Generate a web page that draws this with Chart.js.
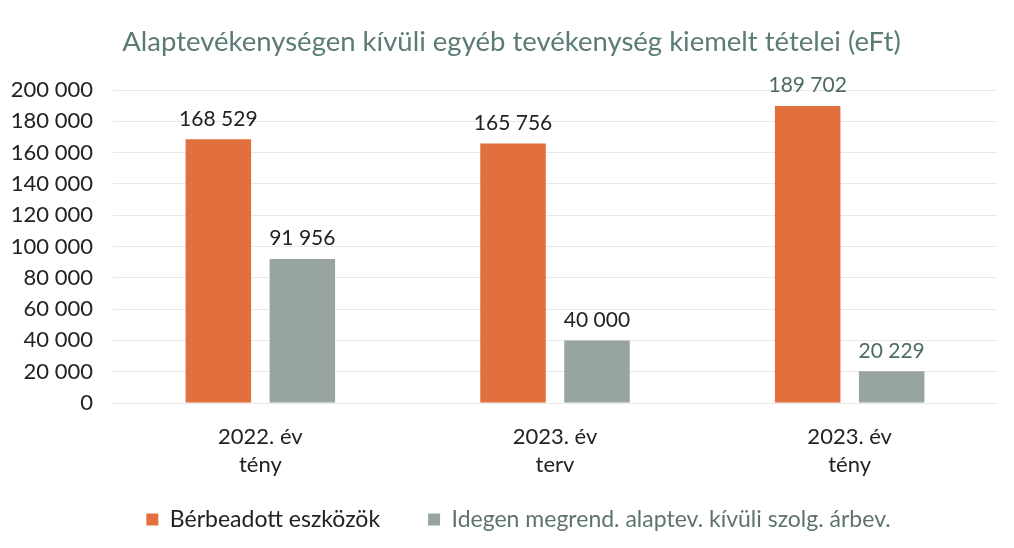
<!DOCTYPE html>
<html>
<head>
<meta charset="utf-8">
<script src="https://cdn.jsdelivr.net/npm/chart.js@4.4.1/dist/chart.umd.min.js"></script>
<style>
html,body{margin:0;padding:0;background:#fff;}
#wrap{width:1014px;height:548px;}
</style>
</head>
<body>
<div id="wrap"><canvas id="c" width="1014" height="548"></canvas></div>
<script>
const categories = [["2022. év","tény"],["2023. év","terv"],["2023. év","tény"]];
const seriesNames = ["Bérbeadott eszközök","Idegen megrend. alaptev. kívüli szolg. árbev."];
const rentedAssets = [168529, 165756, 189702];
const externalServices = [91956, 40000, 20229];
const yTicks = [0,20000,40000,60000,80000,100000,120000,140000,160000,180000,200000];

const FONT = "Lato";
const labelColors = [["#222","#222","#4f6b66"],["#222","#222","#4f6b66"]];
const legendColors = ["#222","#5e7370"];

function fmt(v){return String(v).replace(/\B(?=(\d{3})+(?!\d))/g,' ');}

const dataLabels = {
  id:'dataLabels',
  afterDatasetsDraw(chart){
    const ctx = chart.ctx;
    ctx.save();
    ctx.font = "21px " + FONT;
    ctx.textAlign = 'center';
    ctx.textBaseline = 'bottom';
    chart.data.datasets.forEach((ds,di)=>{
      const meta = chart.getDatasetMeta(di);
      meta.data.forEach((el,i)=>{
        ctx.fillStyle = labelColors[di][i];
        ctx.fillText(fmt(ds.data[i]), el.x, el.y - 10);
      });
    });
    ctx.restore();
  }
};

// Layout tweaks: compact legend height (wide item spacing), and nudge the
// legend and title boxes horizontally to match the reference centring.
const layoutTweak = {
  id:'layoutTweak',
  beforeLayout(chart){
    const lg = chart.legend;
    if (lg && !lg._patched){
      const orig = lg.fit;
      lg.fit = function(){ orig.call(this); this.height = 69; };
      lg._patched = true;
    }
  },
  afterLayout(chart){
    const lg = chart.legend;
    if (lg){ lg.top -= 19; lg.left += 20; lg.right += 20; }
    const tb = chart.titleBlock;
    if (tb){ tb.left += 13; tb.right += 13; }
  }
};

new Chart(document.getElementById('c'),{
  type:'bar',
  data:{
    labels:categories,
    datasets:[
      {label:seriesNames[0],data:rentedAssets,backgroundColor:'#e1703e',categoryPercentage:0.57,barPercentage:0.78},
      {label:seriesNames[1],data:externalServices,backgroundColor:'#98a4a2',categoryPercentage:0.57,barPercentage:0.78}
    ]
  },
  options:{
    responsive:false,
    animation:false,
    layout:{padding:{left:0,right:17,top:0,bottom:0}},
    plugins:{
      title:{display:true,text:'Alaptevékenységen kívüli egyéb tevékenység kiemelt tételei (eFt)',
        color:'#5b7b76',font:{family:FONT,size:27.5,weight:'normal'},padding:{top:26,bottom:31}},
      legend:{position:'bottom',
        labels:{font:{family:FONT,size:23},boxWidth:12,boxHeight:12,padding:48,
          generateLabels(chart){
            return chart.data.datasets.map((ds,i)=>({
              text:ds.label,fillStyle:ds.backgroundColor,strokeStyle:ds.backgroundColor,
              lineWidth:0,fontColor:legendColors[i],datasetIndex:i,hidden:false
            }));
          }}},
      tooltip:{enabled:false}
    },
    scales:{
      x:{grid:{display:false,drawTicks:false},border:{display:false},
        afterFit(s){s.height=76;},
        ticks:{color:'#222',font:{family:FONT,size:22,lineHeight:1.27},padding:20}},
      y:{min:0,max:200000,
        afterBuildTicks(s){s.ticks=yTicks.map(v=>({value:v}));},
        afterFit(s){s.width=113;},
        grid:{color:'#e8e8e8',drawTicks:false},border:{display:false},
        ticks:{color:'#222',font:{family:FONT,size:22},padding:20,autoSkip:false,callback:v=>fmt(v)}}
    }
  },
  plugins:[dataLabels, layoutTweak]
});
</script>
</body>
</html>
